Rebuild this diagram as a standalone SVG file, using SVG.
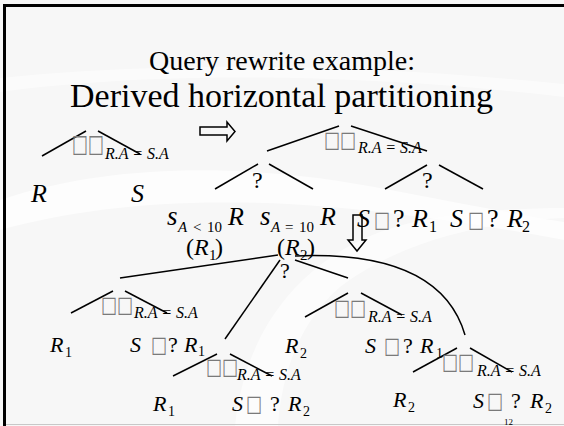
<svg xmlns="http://www.w3.org/2000/svg" width="564" height="426" viewBox="0 0 564 426">
  <style>
    .bg { fill: #f7f7f7; }
    .swoosh { fill: #ffffff; }
    .edge { stroke: #000; stroke-width: 1.5; fill: none; }
    .blk { stroke: #000; stroke-width: 1.5; fill: none; }
    .t { font-family: "Liberation Serif", "Times New Roman", serif; fill: #000; }
    .i { font-style: italic; }
    .big { font-size: 26px; }
    .mid { font-size: 22px; }
    .sub { font-size: 16px; }
    .tofu { font-family: "DejaVu Sans", sans-serif; fill: #7a7a7a; font-size: 17px; }
  </style>

  <!-- slide background -->
  <rect class="bg" x="0" y="0" width="564" height="426"/>
  <path class="swoosh" d="M0,200 C120,160 260,165 380,188 C460,203 520,215 564,222 L564,240 C500,228 420,215 330,207 C200,196 90,205 0,230 Z" opacity="0.7"/>
  <path class="swoosh" d="M235,426 C245,330 300,262 380,232 C430,214 500,208 564,208 L564,218 C480,222 400,242 340,287 C300,322 282,372 278,426 Z" opacity="0.6"/>
  <path class="swoosh" d="M0,92 C150,72 350,72 564,97 L564,84 C350,62 150,62 0,78 Z" opacity="0.5"/>

  <!-- frame -->
  <rect x="3" y="4" width="561" height="3" fill="#000"/>
  <rect x="3" y="4" width="3" height="422" fill="#000"/>
  <line x1="6" y1="424.5" x2="564" y2="424.5" stroke="#c8c8c8" stroke-width="1"/>

  <!-- titles -->
  <g id="title">
    <text class="t" x="282" y="70" font-size="28" text-anchor="middle">Query rewrite example:</text>
    <text class="t" x="281.5" y="107" font-size="34" text-anchor="middle">Derived horizontal partitioning</text>
  </g>

  <!-- connectors -->
  <g id="connectors">
    <!-- original join -->
    <line class="edge" x1="42" y1="156" x2="86" y2="131"/>
    <line class="edge" x1="98" y1="131" x2="140" y2="154"/>
    <!-- rewritten join of unions -->
    <line class="edge" x1="267" y1="151" x2="339" y2="126"/>
    <line class="edge" x1="351" y1="126" x2="427" y2="151"/>
    <line class="edge" x1="215" y1="189" x2="258" y2="164"/>
    <line class="edge" x1="269" y1="164" x2="313" y2="189"/>
    <line class="edge" x1="385" y1="189" x2="427" y2="165"/>
    <line class="edge" x1="439" y1="165" x2="483" y2="189"/>
    <!-- final union of four joins -->
    <line class="edge" x1="120" y1="278" x2="278" y2="255"/>
    <line class="edge" x1="225" y1="339" x2="280" y2="260"/>
    <line class="edge" x1="295" y1="260" x2="348" y2="278"/>
    <path class="edge" d="M295,256 Q440,250 465,335"/>
    <!-- join 1 -->
    <line class="edge" x1="71" y1="313" x2="113" y2="291"/>
    <line class="edge" x1="125" y1="291" x2="167" y2="313"/>
    <!-- join 2 -->
    <line class="edge" x1="173" y1="376" x2="217" y2="354"/>
    <line class="edge" x1="230" y1="354" x2="272" y2="376"/>
    <!-- join 3 -->
    <line class="edge" x1="305" y1="317" x2="348" y2="293"/>
    <line class="edge" x1="361" y1="293" x2="402" y2="315"/>
    <!-- join 4 -->
    <line class="edge" x1="413" y1="372" x2="457" y2="348"/>
    <line class="edge" x1="470" y1="348" x2="512" y2="372"/>
    <!-- rewrite step arrows -->
    <polygon class="blk" points="200,127 227,127 227,122 235,131.5 227,141 227,135 200,135"/>
    <polygon class="blk" points="353,215 362,215 362,240 366,240 357,251 348,240 353,240"/>
  </g>

  <!-- original query tree -->
  <g id="join0">
    <text class="tofu" transform="translate(72,152) scale(1,1.45)">□□</text>
    <text class="t i sub" x="105" y="159">R.A = S.A</text>
  </g>
  <g id="leafR"><text class="t i big" x="31" y="202">R</text></g>
  <g id="leafS"><text class="t i big" x="131" y="202">S</text></g>

  <!-- rewritten tree -->
  <g id="joinTop">
    <text class="tofu" transform="translate(324,147) scale(1,1.3)">□□</text>
    <text class="t i sub" x="358" y="153">R.A = S.A</text>
  </g>
  <g id="unionR"><text class="t" x="252" y="188" font-size="24">?</text></g>
  <g id="unionS"><text class="t" x="422" y="188" font-size="24">?</text></g>
  <g id="selR1">
    <text class="t i" x="167" y="225" font-size="27">s</text>
    <text class="t" y="232" font-size="15"><tspan class="i" x="178">A</tspan><tspan x="193">&lt;</tspan><tspan x="207">10</tspan></text>
    <text class="t i big" x="228" y="225">R</text>
    <text class="t" y="255" font-size="24"><tspan x="186">(</tspan><tspan class="i" x="194">R</tspan><tspan x="209" dy="5" font-size="15">1</tspan><tspan x="215" dy="-5">)</tspan></text>
  </g>
  <g id="selR2">
    <text class="t i" x="260" y="225" font-size="27">s</text>
    <text class="t" y="232" font-size="15"><tspan class="i" x="271">A</tspan><tspan x="285">=</tspan><tspan x="299">10</tspan></text>
    <text class="t i big" x="320" y="225">R</text>
    <text class="t" y="255" font-size="24"><tspan x="277">(</tspan><tspan class="i" x="285">R</tspan><tspan x="300" dy="5" font-size="15">2</tspan><tspan x="307" dy="-5">)</tspan></text>
  </g>
  <g id="semiS1">
    <text class="t i big" x="357" y="227">S</text>
    <text class="tofu" transform="translate(374,227) scale(1,1.3)">□</text>
    <text class="t big" x="393" y="227">?</text>
    <text class="t i big" x="412" y="227">R</text>
    <text class="t" x="429" y="232" font-size="16">1</text>
  </g>
  <g id="semiS2">
    <text class="t i big" x="450" y="227">S</text>
    <text class="tofu" transform="translate(468,227) scale(1,1.3)">□</text>
    <text class="t big" x="487" y="227">?</text>
    <text class="t i big" x="507" y="227">R</text>
    <text class="t" x="522" y="232" font-size="16">2</text>
  </g>

  <!-- final tree -->
  <g id="unionAll"><text class="t mid" x="280" y="278">?</text></g>

  <g id="join1">
    <text class="tofu" transform="translate(101,312) scale(1,1.3)">□□</text>
    <text class="t i sub" x="134" y="318">R.A = S.A</text>
    <text class="t i mid" x="50" y="352">R</text>
    <text class="t" x="65" y="357" font-size="14">1</text>
    <text class="t i mid" x="130" y="352">S</text>
    <text class="tofu" transform="translate(151,352) scale(1,1.3)">□</text>
    <text class="t mid" x="168" y="352">?</text>
    <text class="t i mid" x="184" y="352">R</text>
    <text class="t" x="198" y="356" font-size="14">1</text>
  </g>

  <g id="join2">
    <text class="tofu" transform="translate(206,374) scale(1,1.3)">□□</text>
    <text class="t i sub" x="237" y="380">R.A = S.A</text>
    <text class="t i mid" x="153" y="411">R</text>
    <text class="t" x="168" y="416" font-size="14">1</text>
    <text class="t i mid" x="232" y="411">S</text>
    <text class="tofu" transform="translate(246,411) scale(1,1.3)">□</text>
    <text class="t mid" x="270" y="411">?</text>
    <text class="t i mid" x="288" y="411">R</text>
    <text class="t" x="303" y="416" font-size="14">2</text>
  </g>

  <g id="join3">
    <text class="tofu" transform="translate(334,315) scale(1,1.3)">□□</text>
    <text class="t i sub" x="368" y="322">R.A = S.A</text>
    <text class="t i mid" x="285" y="353">R</text>
    <text class="t" x="300" y="358" font-size="14">2</text>
    <text class="t i mid" x="365" y="353">S</text>
    <text class="tofu" transform="translate(384,353) scale(1,1.3)">□</text>
    <text class="t mid" x="403" y="353">?</text>
    <text class="t i mid" x="420" y="353">R</text>
    <text class="t" x="436" y="358" font-size="14">1</text>
  </g>

  <g id="join4">
    <text class="tofu" transform="translate(442,369) scale(1,1.3)">□□</text>
    <text class="t i sub" x="477" y="376">R.A = S.A</text>
    <text class="t i mid" x="393" y="407">R</text>
    <text class="t" x="408" y="412" font-size="14">2</text>
    <text class="t i mid" x="473" y="408">S</text>
    <text class="tofu" transform="translate(487,408) scale(1,1.3)">□</text>
    <text class="t mid" x="511" y="408">?</text>
    <text class="t i mid" x="530" y="408">R</text>
    <text class="t" x="545" y="413" font-size="14">2</text>
  </g>

  <!-- slide number -->
  <text class="t" x="504" y="425" font-size="9">12</text>
</svg>
